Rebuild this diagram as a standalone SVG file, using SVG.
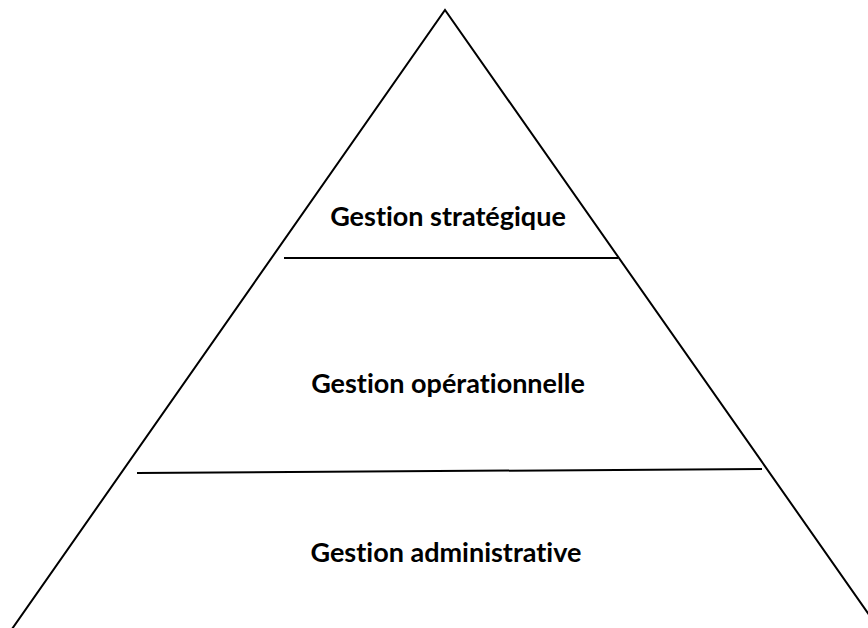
<svg xmlns="http://www.w3.org/2000/svg" width="868" height="628" viewBox="0 0 868 628">
  <style>
    .edge { stroke: #000; stroke-width: 2; fill: none; }
    .label { font-family: Lato, "Liberation Sans", sans-serif; font-weight: bold; font-size: 27px; fill: #000; text-anchor: middle; font-variant-ligatures: none; }
  </style>
  <rect width="868" height="628" fill="#fff"/>
  <g id="connectors">
    <!-- pyramid outline -->
    <path class="edge" d="M12 629 L445 10 L870 616"/>
    <!-- tier separators -->
    <line class="edge" x1="284" y1="258" x2="618" y2="258"/>
    <line class="edge" x1="137" y1="473" x2="762" y2="469"/>
  </g>
  <g id="strategique">
    <text class="label" x="448" y="226">Gestion stratégique</text>
  </g>
  <g id="operationnelle">
    <text class="label" x="448" y="393">Gestion opérationnelle</text>
  </g>
  <g id="administrative">
    <text class="label" x="446" y="562">Gestion administrative</text>
  </g>
</svg>
